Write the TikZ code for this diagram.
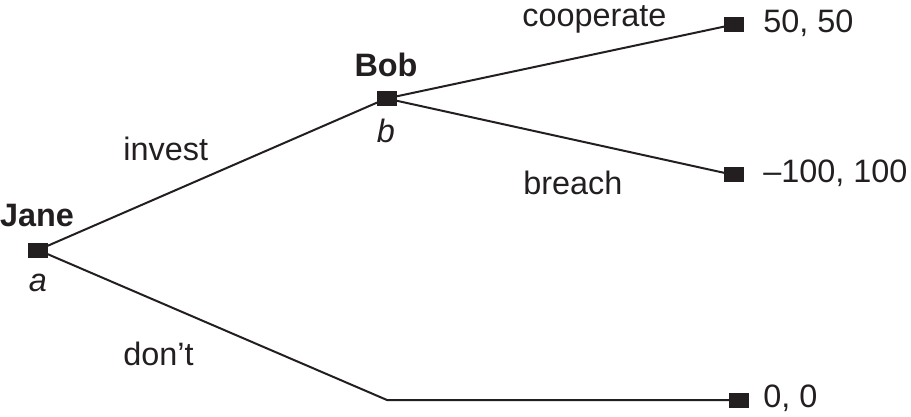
\documentclass[tikz,border=0pt]{standalone}
\usepackage{fontspec}
\setmainfont{Liberation Sans}
\definecolor{ink}{HTML}{231F20}
\begin{document}
\begin{tikzpicture}[x=0.5pt,y=-0.5pt,
  sq/.style={rectangle,fill=ink,draw=none,minimum width=10pt,minimum height=7.5pt,inner sep=0pt},
  edge/.style={draw=ink,line width=1pt},
  lbl/.style={anchor=base west,inner sep=0pt,text=ink,font=\fontsize{16.2pt}{19pt}\selectfont},
  plbl/.style={anchor=base,inner sep=0pt,text=ink,font=\fontsize{16.2pt}{19pt}\selectfont\bfseries},
  ilbl/.style={anchor=base,inner sep=0pt,text=ink,font=\fontsize{16.2pt}{19pt}\selectfont\itshape}]
\useasboundingbox (0,0) rectangle (911,417);
% decision nodes
\coordinate (a) at (38,250);
\coordinate (b) at (386.5,98.5);
\coordinate (t1) at (734,24.5);
\coordinate (t2) at (734,175);
\coordinate (t3) at (739,400);
\coordinate (k) at (387,400);
% edges
\draw[edge] (a) -- (b);
\draw[edge] (b) -- (t1);
\draw[edge] (b) -- (t2);
\draw[edge] (a) -- (k) -- (t3);
% squares
\node[sq] (sa) at (a) {};
\node[sq] (sb) at (b) {};
\node[sq] (s1) at (t1) {};
\node[sq] (s2) at (t2) {};
\node[sq] (s3) at (t3) {};
% player labels
\node[plbl] (jane) at (37,227) {Jane};
\node[ilbl] (la) at (38,291) {a};
\node[plbl] (bob) at (386,77) {Bob};
\node[ilbl] (lb) at (386,143) {b};
% action labels
\node[lbl] (coop) at (522,27) {cooperate};
\node[lbl] (breach) at (523,194) {breach};
\node[lbl] (invest) at (123,161) {invest};
\node[lbl] (dont) at (123,365) {don’t};
% payoffs
\node[lbl] (p1) at (763,33) {50, 50};
\node[lbl] (p2) at (763,183) {–100, 100};
\node[lbl] (p3) at (763,407) {0, 0};
\end{tikzpicture}
\end{document}
